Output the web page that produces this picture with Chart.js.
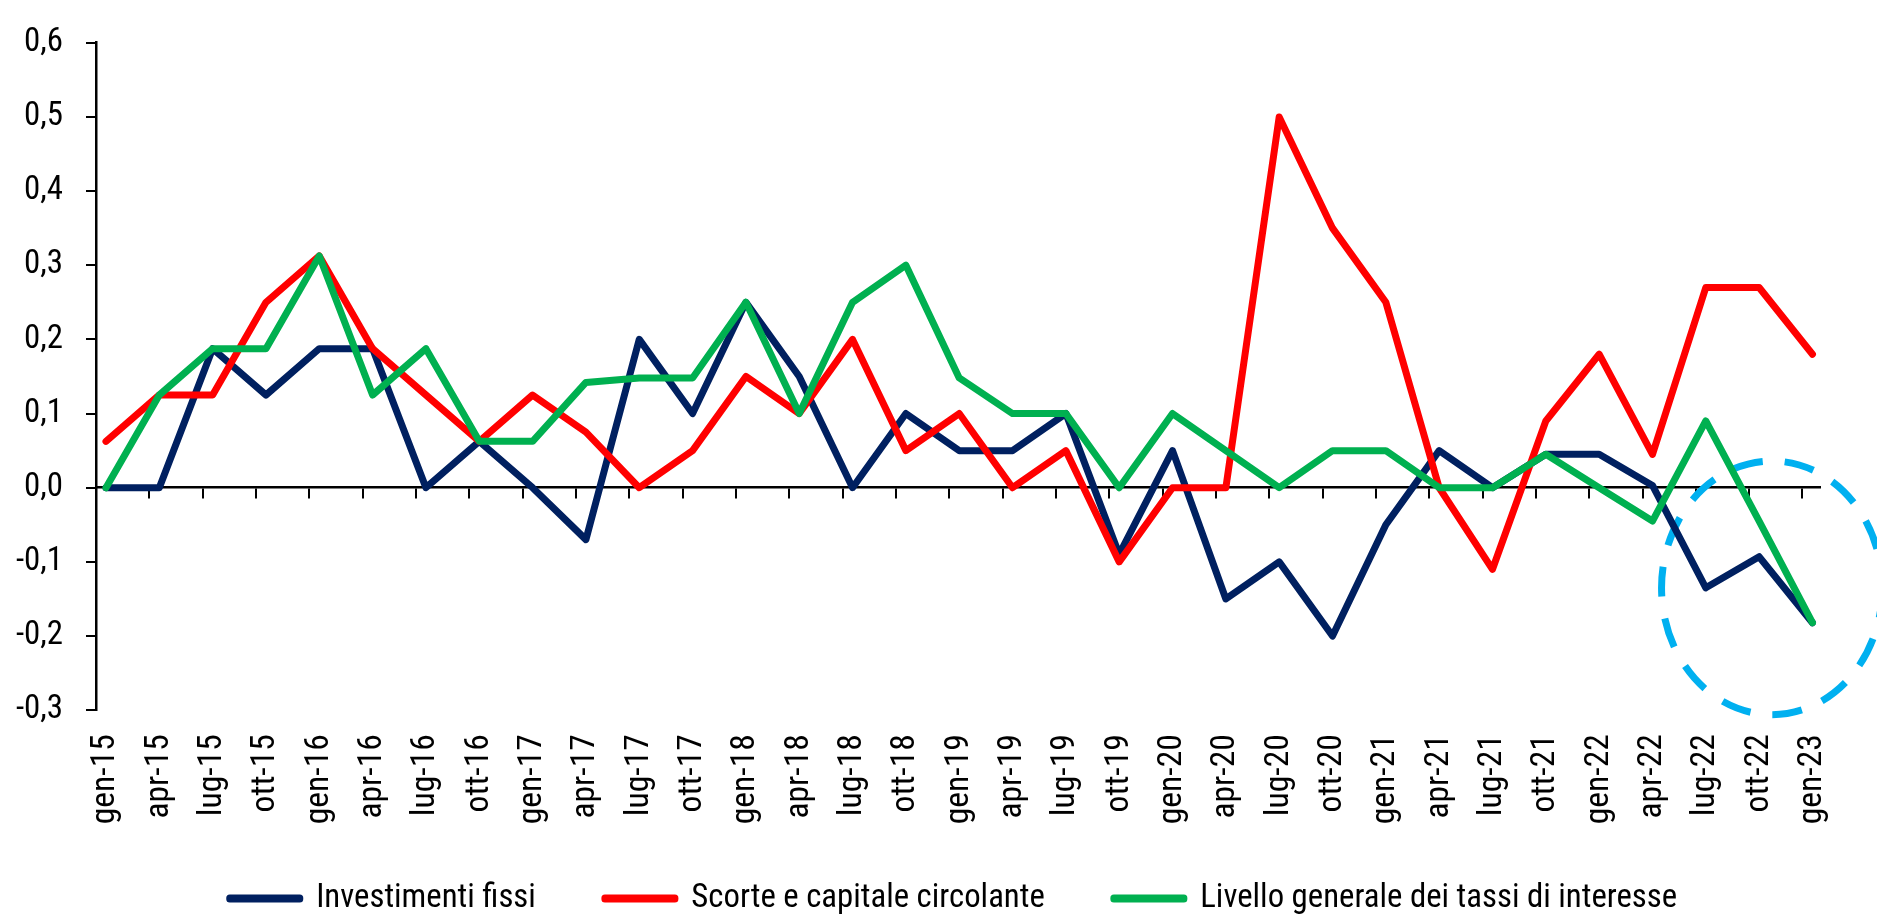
<!DOCTYPE html>
<html>
<head>
<meta charset="utf-8">
<script src="https://cdn.jsdelivr.net/npm/chart.js@4/dist/chart.umd.min.js"></script>
<style>
  html, body { margin: 0; padding: 0; background: #fff; }
  #wrap { width: 1877px; height: 916px; position: relative; }
</style>
</head>
<body>
<div id="wrap"><canvas id="chart"></canvas></div>
<script>
let quarters = ['gen-15', 'apr-15', 'lug-15', 'ott-15', 'gen-16', 'apr-16', 'lug-16', 'ott-16',
    'gen-17', 'apr-17', 'lug-17', 'ott-17', 'gen-18', 'apr-18', 'lug-18', 'ott-18',
    'gen-19', 'apr-19', 'lug-19', 'ott-19', 'gen-20', 'apr-20', 'lug-20', 'ott-20',
    'gen-21', 'apr-21', 'lug-21', 'ott-21', 'gen-22', 'apr-22', 'lug-22', 'ott-22', 'gen-23'];

let investimenti = [0, 0, 0.1875, 0.125, 0.1875, 0.1875, 0, 0.0625,
    0, -0.07, 0.2, 0.1, 0.25, 0.15, 0, 0.1,
    0.05, 0.05, 0.1, -0.09, 0.05, -0.15, -0.1, -0.2,
    -0.05, 0.05, 0, 0.045, 0.045, 0.003, -0.135, -0.093, -0.182];

let scorte = [0.0625, 0.125, 0.125, 0.25, 0.3125, 0.1875, 0.125, 0.0625,
    0.125, 0.075, 0, 0.05, 0.15, 0.1, 0.2, 0.05,
    0.1, 0, 0.05, -0.1, 0, 0, 0.5, 0.35,
    0.25, 0, -0.11, 0.09, 0.18, 0.045, 0.27, 0.27, 0.18];

let tassi = [0, 0.125, 0.1875, 0.1875, 0.3125, 0.125, 0.1875, 0.0625,
    0.0625, 0.142, 0.148, 0.148, 0.25, 0.1, 0.25, 0.3,
    0.148, 0.1, 0.1, 0, 0.1, 0.05, 0, 0.05,
    0.05, 0, 0, 0.045, 0, -0.045, 0.09, -0.045, -0.182];

let seriesNames = ['Investimenti fissi', 'Scorte e capitale circolante', 'Livello generale dei tassi di interesse'];

let yTicks = [-0.3, -0.2, -0.1, 0, 0.1, 0.2, 0.3, 0.4, 0.5, 0.6];

// highlight ellipse in data units: centre index, centre value, radius in index, radius in value
let highlight = [31.24, -0.135, 2.07, 0.171];

// the original uses a narrow Arial; find a condensed sans and size it to the same text widths
let probe = document.createElement('canvas').getContext('2d');
function textWidth(style, size, family, text) {
    probe.font = (style ? style + ' ' : '') + size + 'px ' + family;
    return probe.measureText(text).width;
}
function pickFont() {
    let sample = 'Investimenti fissi 0,6 gen-15';
    let base = textWidth('', 40, 'monospace', sample);
    let ref = textWidth('', 40, '"Liberation Sans", monospace', sample);
    let tries = [
        ['', '"Liberation Sans Narrow"'],
        ['', '"Arial Narrow"'],
        ['', '"Roboto Condensed"'],
        ['', '"Noto Sans Condensed"'],
        ['condensed', '"Noto Sans"'],
        ['', '"Open Sans Condensed"'],
        ['condensed', '"Open Sans"'],
        ['condensed', 'Roboto']
    ];
    for (let [st, fam] of tries) {
        let v = textWidth(st, 40, fam + ', monospace', sample);
        if (Math.abs(v - base) > 1 && v < ref * 0.95) return { style: st, family: fam };
    }
    return { style: '', family: '"Liberation Sans"' };
}
let narrow = pickFont();
let narrowFamily = narrow.family + ', "Liberation Sans", Arial, sans-serif';
let measure = (size, text) => textWidth(narrow.style, size, narrowFamily, text);
let fitSize = (text, target) => Math.round(1000 * target / measure(100, text)) / 10;

let legendSize = (fitSize(seriesNames[0], 216) + fitSize(seriesNames[1], 354) + fitSize(seriesNames[2], 486)) / 3;
let xLabelSize = fitSize('gen-15', 90);
let yLabelSize = fitSize('0,6', 39);

Chart.defaults.font.family = narrowFamily;
if (narrow.style) Chart.defaults.font.style = narrow.style;
Chart.defaults.color = '#000';

// legend: label padding is also its vertical padding, so gaps are made up with spaces,
// and the row is right-aligned with trailing space on the last item to start where the original does
let legendPad = 54;
let legendBox = 70;
let spaceW = measure(legendSize, ' ');
let gap = ' '.repeat(Math.max(0, Math.round((68 - legendPad) / spaceW)));
let legendTexts = seriesNames.map((n, i) => i < 2 ? n + gap : n);
let rowWidth = legendTexts.reduce((s, t) => s + legendBox + legendSize / 2 + measure(legendSize, t) + legendPad, 0);
let tail = ' '.repeat(Math.max(0, Math.round((1829 - 226 - rowWidth) / spaceW)));
legendTexts[2] += tail;

function points(vals) {
    return vals.map((v, i) => ({ x: i, y: v }));
}

let ellipsePlugin = {
    id: 'ellipse',
    beforeDatasetsDraw(chart) {
        let xs = chart.scales.x, ys = chart.scales.y, ctx = chart.ctx;
        let cx = xs.getPixelForValue(highlight[0]);
        let cy = ys.getPixelForValue(highlight[1]);
        let rx = Math.abs(xs.getPixelForValue(highlight[0] + highlight[2]) - cx);
        let ry = Math.abs(ys.getPixelForValue(highlight[1] + highlight[3]) - cy);
        ctx.save();
        ctx.beginPath();
        ctx.ellipse(cx, cy, rx, ry, 0, 0, Math.PI * 2);
        ctx.setLineDash([30, 22]);
        ctx.lineWidth = 7;
        ctx.strokeStyle = '#00B0F0';
        ctx.stroke();
        ctx.restore();
    }
};

let line = (label, vals, color, order) => ({
    label: label,
    data: points(vals),
    borderColor: color,
    backgroundColor: color,
    borderWidth: 7,
    pointRadius: 0,
    tension: 0,
    borderJoinStyle: 'round',
    borderCapStyle: 'round',
    fill: false,
    order: order,
    xAxisID: 'x',
    yAxisID: 'y'
});

new Chart(document.getElementById('chart').getContext('2d'), {
    type: 'line',
    data: {
        datasets: [
            line(seriesNames[0], investimenti, '#002060', 2),
            line(seriesNames[1], scorte, '#FF0000', 1),
            line(seriesNames[2], tassi, '#00B050', 0)
        ]
    },
    options: {
        responsive: true,
        maintainAspectRatio: false,
        animation: false,
        layout: { padding: { top: 29, right: 48, left: 0, bottom: -9 } },
        scales: {
            x: {
                type: 'linear',
                position: 'bottom',
                min: -0.187,
                max: 32.15,
                afterFit: s => { s.height = 172 - legendPad; },
                grid: { display: false, drawTicks: false },
                border: { display: false },
                ticks: {
                    stepSize: 1,
                    autoSkip: false,
                    includeBounds: false,
                    minRotation: 90,
                    maxRotation: 90,
                    padding: 24,
                    font: { size: xLabelSize },
                    callback: v => (Number.isInteger(v) && quarters[v]) ? quarters[v] : ''
                }
            },
            x0: {
                type: 'linear',
                position: { y: 0 },
                min: 0,
                max: 32.337,
                grid: { drawOnChartArea: false, tickLength: 10, color: '#000', lineWidth: 2 },
                border: { color: '#000', width: 2.5 },
                ticks: { display: false, stepSize: 1, includeBounds: false }
            },
            y: {
                min: -0.3,
                max: 0.6,
                afterFit: s => { s.width = 96; },
                afterBuildTicks: s => { s.ticks = yTicks.map(v => ({ value: v })); },
                grid: { drawOnChartArea: false, tickLength: 10, color: '#000', lineWidth: 2 },
                border: { color: '#000', width: 2.5 },
                ticks: {
                    padding: 23,
                    font: { size: yLabelSize },
                    callback: v => v.toFixed(1).replace('.', ',')
                }
            }
        },
        plugins: {
            tooltip: { enabled: false },
            legend: {
                position: 'bottom',
                align: 'end',
                labels: {
                    boxWidth: legendBox,
                    boxHeight: 1,
                    padding: legendPad,
                    font: { size: legendSize },
                    sort: (a, b) => a.datasetIndex - b.datasetIndex,
                    generateLabels: chart => Chart.defaults.plugins.legend.labels.generateLabels(chart)
                        .map(item => Object.assign(item, { text: legendTexts[item.datasetIndex] }))
                }
            }
        }
    },
    plugins: [ellipsePlugin]
});
</script>
</body>
</html>
